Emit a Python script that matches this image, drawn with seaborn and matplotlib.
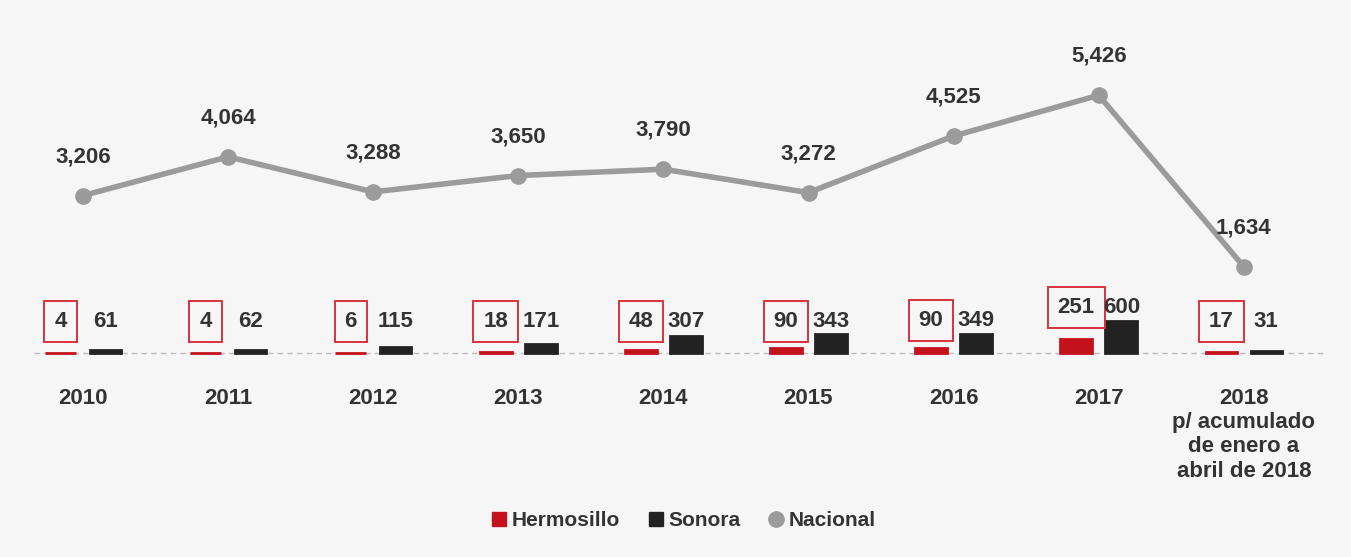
import pandas as pd
import matplotlib.pyplot as plt
import seaborn as sns
from matplotlib.lines import Line2D
from matplotlib import transforms

# datos
years = ['2010', '2011', '2012', '2013', '2014', '2015', '2016', '2017',
         '2018\np/ acumulado\nde enero a\nabril de 2018']
hermosillo = [4, 4, 6, 18, 48, 90, 90, 251, 17]
sonora = [61, 62, 115, 171, 307, 343, 349, 600, 31]
nacional = [3206, 4064, 3288, 3650, 3790, 3272, 4525, 5426, 1634]

RED = '#c4121c'
BLACK = '#222222'
GREY = '#9b9b9b'
TXT = '#333333'
BG = '#f6f6f6'

sns.set_theme(style='white')
plt.rcParams['font.family'] = ['Liberation Sans', 'DejaVu Sans']
plt.rcParams['font.weight'] = 'bold'

df = pd.DataFrame({
    'anio': list(range(len(years))) * 2,
    'valor': hermosillo + sonora,
    'serie': ['Hermosillo'] * len(years) + ['Sonora'] * len(years),
})

W, H = 1351, 557
fig = plt.figure(figsize=(W / 100, H / 100), dpi=100, facecolor=BG)
ax = fig.add_axes([0, 0, 1, 1])
ax.set_facecolor(BG)

# escala de pixeles
x0, dx = 83, 145.1
base_px = 557 - 353
bar_scale = 0.054
xlim = (-x0 / dx, (W - x0) / dx)

sns.barplot(data=df, x='anio', y='valor', hue='serie', order=list(range(len(years))),
            palette={'Hermosillo': RED, 'Sonora': BLACK}, width=0.62, gap=0.3,
            dodge=True, legend=False, ax=ax, native_scale=True,
            linewidth=2, saturation=1)
for c, col in zip(ax.containers, [RED, BLACK]):
    for p in c:
        p.set_edgecolor(col)
ax.set_xlim(*xlim)
ax.set_ylim(-base_px / bar_scale, (H - base_px) / bar_scale)

# linea base punteada
ax.axhline(0, xmin=0.025, xmax=0.982, color='#bdbdbd', lw=1, ls=(0, (4, 3)), zorder=0)

# etiquetas de barras
h_bars = ax.containers[0]
s_bars = ax.containers[1]
for i in range(len(years)):
    ly = max(sonora[i], 340)
    ph = h_bars[i]
    ps = s_bars[i]
    ax.annotate(f'{hermosillo[i]}', (ph.get_x() + ph.get_width() / 2, ly),
                xytext=(0, 9.5), textcoords='offset points', ha='center', va='center',
                fontsize=16, fontweight='bold', color=TXT,
                bbox=dict(boxstyle='square,pad=0.45', fc='none', ec='#d8323c', lw=1.4))
    ax.annotate(f'{sonora[i]}', (ps.get_x() + ps.get_width() / 2, ly),
                xytext=(0, 9.5), textcoords='offset points', ha='center', va='center',
                fontsize=16, fontweight='bold', color=TXT)

# etiquetas de anios
trans = transforms.blended_transform_factory(ax.transData, ax.transAxes)
for i, y in enumerate(years):
    ax.text(i, 1 - 388 / H, y, transform=trans, ha='center', va='top',
            fontsize=16, fontweight='bold', color=TXT, linespacing=1.2)

# linea nacional (eje secundario)
ax2 = ax.twinx()
ax2.set_position([0, 0, 1, 1])
ax2.patch.set_visible(False)
slope, my, mv = 0.04519, 175.5, 3650.6
ax2.set_ylim(mv - (H - my) / slope, mv + my / slope)
sns.lineplot(x=list(range(len(years))), y=nacional, ax=ax2, color=GREY, lw=4,
             marker='o', markersize=12, markeredgewidth=0, legend=False)
ax2.set_xlim(*xlim)
for i, v in enumerate(nacional):
    ax2.annotate(f'{v:,}', (i, v), xytext=(0, 28), textcoords='offset points',
                 ha='center', va='center', fontsize=16, fontweight='bold', color=TXT)

for a in (ax, ax2):
    a.set_axis_off()

# leyenda
handles = [
    Line2D([], [], marker='s', color=RED, ls='none', markersize=10),
    Line2D([], [], marker='s', color=BLACK, ls='none', markersize=10),
    Line2D([], [], marker='o', color=GREY, ls='none', markersize=11),
]
leg = fig.legend(handles, ['Hermosillo', 'Sonora', 'Nacional'], loc='center',
                 bbox_to_anchor=(0.505, 1 - 521 / H), ncol=3, frameon=False,
                 handletextpad=0.1, columnspacing=1.2, handlelength=1,
                 prop={'size': 15, 'weight': 'bold'})
for t in leg.get_texts():
    t.set_color(TXT)

fig.savefig('out.png', dpi=100, facecolor=BG)
